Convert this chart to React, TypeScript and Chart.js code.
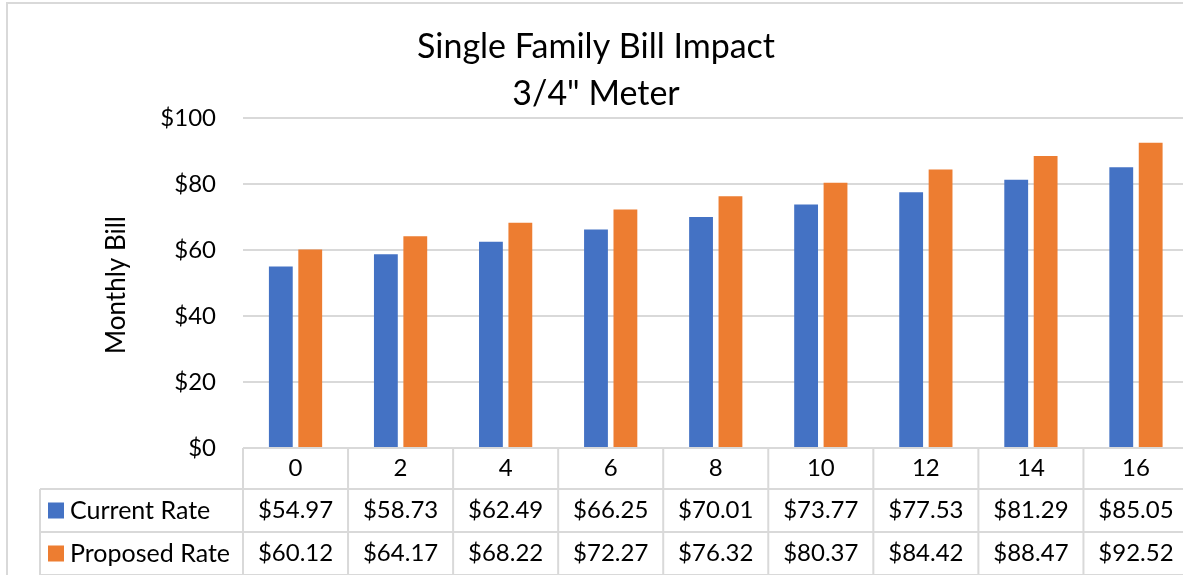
import React, { useEffect, useRef } from 'react';
import { Chart, registerables } from 'chart.js';

Chart.register(...registerables);

const categories = ['0', '2', '4', '6', '8', '10', '12', '14', '16'];
const currentRate = [54.97, 58.73, 62.49, 66.25, 70.01, 73.77, 77.53, 81.29, 85.05];
const proposedRate = [60.12, 64.17, 68.22, 72.27, 76.32, 80.37, 84.42, 88.47, 92.52];
const seriesNames = ['Current Rate', 'Proposed Rate'];
const titleLines = ['Single Family Bill Impact', '3/4" Meter'];
const yAxisTitle = 'Monthly Bill';

const BLUE = '#4472C4';
const ORANGE = '#ED7D31';
const GRID = '#D9D9D9';
const TEXT = '#000000';
const FONT = 'Lato, "Open Sans", sans-serif';

const W = 1200;
const H = 600;

const money = (v: number) => '$' + v.toFixed(2);

const excelPlugin = {
  id: 'excelDecor',
  afterDraw(chart: any) {
    const ctx = chart.ctx as CanvasRenderingContext2D;
    const { left, right, top, bottom } = chart.chartArea;
    const xs = chart.scales.x;
    const n = categories.length;
    const cw = (right - left) / n;
    ctx.save();

    // outer chart border
    ctx.strokeStyle = GRID;
    ctx.lineWidth = 2;
    ctx.beginPath();
    ctx.moveTo(7, H);
    ctx.lineTo(7, 3);
    ctx.lineTo(W, 3);
    ctx.stroke();

    // title
    ctx.fillStyle = TEXT;
    ctx.textAlign = 'center';
    ctx.textBaseline = 'middle';
    ctx.font = `34px ${FONT}`;
    ctx.fillText(titleLines[0], 596, 47);
    ctx.fillText(titleLines[1], 596, 94);

    // y axis title
    ctx.save();
    ctx.translate(117, 285);
    ctx.rotate(-Math.PI / 2);
    ctx.font = `26px ${FONT}`;
    ctx.fillText(yAxisTitle, 0, 0);
    ctx.restore();

    // data table
    const tableLeft = 40;
    const headerBottom = bottom + 41;
    const row1Bottom = bottom + 84;
    const row2Bottom = bottom + 127;

    ctx.strokeStyle = GRID;
    ctx.lineWidth = 2;
    ctx.beginPath();
    ctx.moveTo(left, bottom);
    ctx.lineTo(W, bottom);
    [headerBottom, row1Bottom, row2Bottom].forEach((y) => {
      ctx.moveTo(tableLeft, y);
      ctx.lineTo(W, y);
    });
    for (let i = 0; i <= n; i++) {
      const x = left + i * cw;
      ctx.moveTo(x, bottom);
      ctx.lineTo(x, H);
    }
    ctx.moveTo(tableLeft, headerBottom);
    ctx.lineTo(tableLeft, H);
    ctx.stroke();

    ctx.fillStyle = TEXT;
    ctx.font = `24px ${FONT}`;
    ctx.textAlign = 'center';
    ctx.textBaseline = 'middle';
    const rows = [currentRate, proposedRate];
    const rowMid = [(headerBottom + row1Bottom) / 2, (row1Bottom + row2Bottom) / 2];
    categories.forEach((c, i) => {
      const cx = xs.getPixelForValue(i);
      ctx.fillText(c, cx, (bottom + headerBottom) / 2);
      rows.forEach((r, k) => ctx.fillText(money(r[i]), cx, rowMid[k]));
    });

    // legend keys
    const colors = [BLUE, ORANGE];
    ctx.textAlign = 'left';
    ctx.font = `25px ${FONT}`;
    seriesNames.forEach((name, k) => {
      ctx.fillStyle = colors[k];
      ctx.fillRect(48, rowMid[k] - 8, 16, 16);
      ctx.fillStyle = TEXT;
      ctx.fillText(name, 70, rowMid[k]);
    });

    ctx.restore();
  },
};

export default function App() {
  const ref = useRef<HTMLCanvasElement>(null);
  useEffect(() => {
    if (!ref.current) return;
    const chart = new Chart(ref.current, {
      type: 'bar',
      data: {
        labels: categories,
        datasets: [
          { label: seriesNames[0], data: currentRate, backgroundColor: BLUE, categoryPercentage: 0.56, barPercentage: 0.81 },
          { label: seriesNames[1], data: proposedRate, backgroundColor: ORANGE, categoryPercentage: 0.56, barPercentage: 0.81 },
        ],
      },
      options: {
        responsive: false,
        animation: false,
        devicePixelRatio: 1,
        layout: { padding: { left: 0, top: 118, right: W - 1188.5, bottom: H - 448 } },
        plugins: { legend: { display: false }, title: { display: false }, tooltip: { enabled: false } },
        scales: {
          x: { display: false, offset: true },
          y: {
            min: 0,
            max: 100,
            border: { display: false },
            grid: { color: GRID, lineWidth: 2, drawTicks: false },
            ticks: {
              stepSize: 20,
              padding: 27,
              color: TEXT,
              font: { family: FONT, size: 24 },
              callback: (v: any) => '$' + v,
            },
            afterFit: (scale: any) => {
              scale.width = 243;
            },
          },
        },
      },
      plugins: [excelPlugin],
    });
    return () => chart.destroy();
  }, []);
  return (
    <div style={{ position: 'fixed', left: 0, top: 0, width: W, height: H, background: '#fff' }}>
      <canvas ref={ref} width={W} height={H} style={{ display: 'block', width: W, height: H }} />
    </div>
  );
}
